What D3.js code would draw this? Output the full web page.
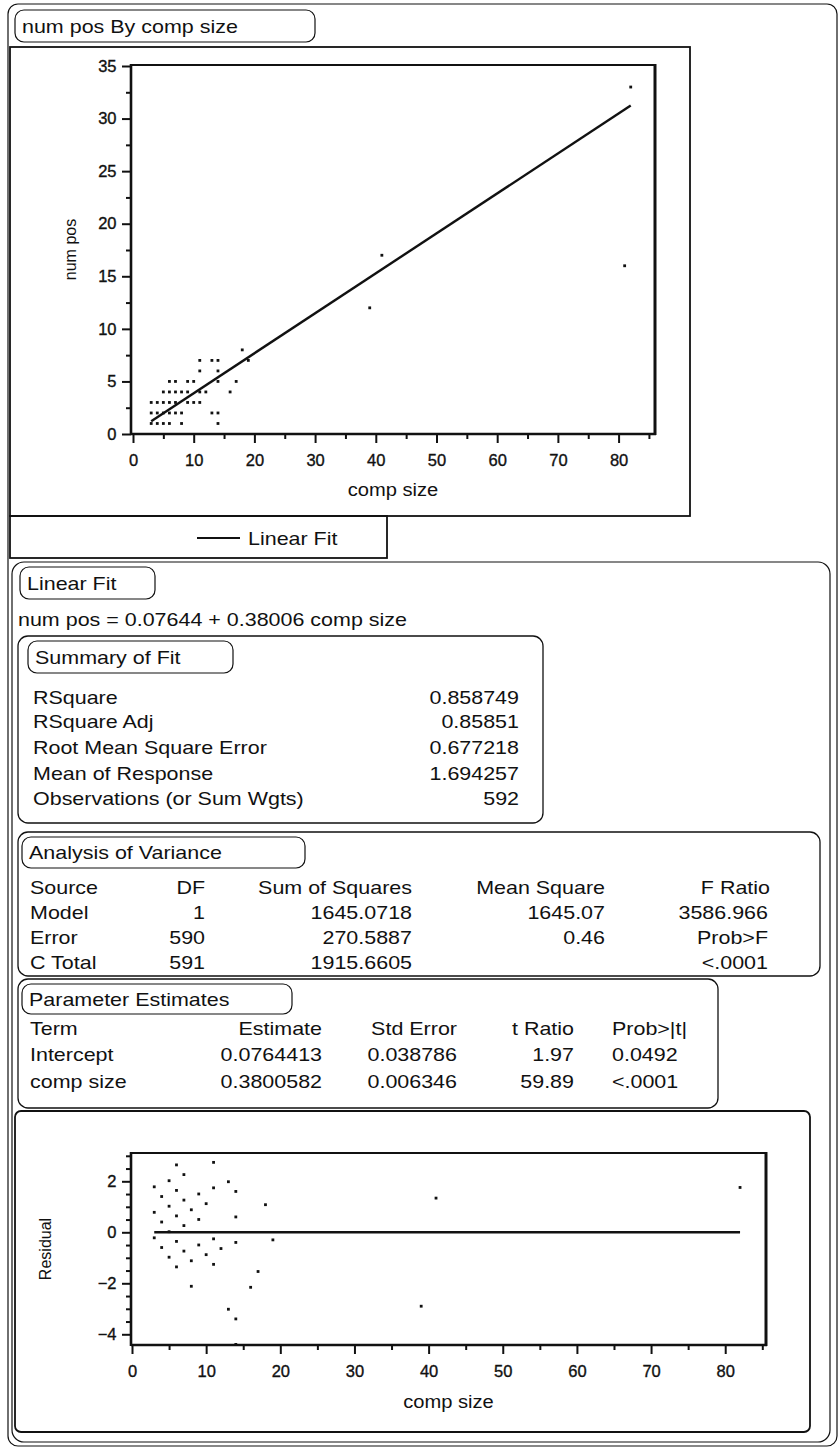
<!DOCTYPE html>
<html><head><meta charset="utf-8">
<script src="https://cdn.jsdelivr.net/npm/d3@7"></script>
<style>
body{margin:0;background:#fff;}
svg text{font-family:"Liberation Sans",Arial,sans-serif;fill:#111;}
</style></head><body>
<svg id="chart" width="840" height="1450"></svg>
<script>
// ---- observations (distinct component size / number of positives pairs) ----
const compSize = [3,4,5,6,8,14, 3,4,5,6,7,8,13,14, 3,4,5,6,7,9,10,11, 5,6,7,8,9,11,12,16, 6,7,9,10,14,17, 11,14, 11,13,14,19, 18, 39, 41, 81, 82];
const numPos   = [1,1,1,1,1,1, 2,2,2,2,2,2,2,2, 3,3,3,3,3,3,3,3, 4,4,4,4,4,4,4,4, 5,5,5,5,5,5, 6,6, 7,7,7,7, 8, 12, 17, 16, 33];

// ---- fitted line ----
const intercept = 0.0764413;
const slope = 0.3800582;
const fitRange = [3, 82];

// ---- axis ticks ----
const scatterXTicks = [0,10,20,30,40,50,60,70,80];
const scatterYTicks = [0,5,10,15,20,25,30,35];
const residXTicks = [0,10,20,30,40,50,60,70,80];
const residYTicks = [-4,-2,0,2];

// ---- report tables ----
const equationText = "num pos = 0.07644 + 0.38006 comp size";
const summaryLabels = ["RSquare","RSquare Adj","Root Mean Square Error","Mean of Response","Observations (or Sum Wgts)"];
const summaryValues = ["0.858749","0.85851","0.677218","1.694257","592"];
const aovHeader = ["Source","DF","Sum of Squares","Mean Square","F Ratio"];
const aovSource = ["Model","Error","C Total"];
const aovDF = ["1","590","591"];
const aovSS = ["1645.0718","270.5887","1915.6605"];
const aovMS = ["1645.07","0.46",""];
const aovF = ["3586.966","Prob>F","<.0001"];
const peHeader = ["Term","Estimate","Std Error","t Ratio","Prob>|t|"];
const peTerm = ["Intercept","comp size"];
const peEstimate = ["0.0764413","0.3800582"];
const peStdErr = ["0.038786","0.006346"];
const peT = ["1.97","59.89"];
const peP = ["0.0492","<.0001"];

const ink = "#111";
const FS = 19, SX = 1.13;   // report text size and horizontal stretch
const svg = d3.select("#chart");

function rbox(x, y, w, h, r, sw) {
  svg.append("rect").attr("x", x).attr("y", y).attr("width", w).attr("height", h)
    .attr("rx", r).attr("fill", "none").attr("stroke", ink).attr("stroke-width", sw);
}
function txt(x, y, s, anchor, size, sx) {
  return svg.append("text")
    .attr("transform", `translate(${x},${y}) scale(${sx || SX},1)`)
    .attr("dy", "0.36em")
    .attr("text-anchor", anchor || "start").attr("font-size", size || FS).text(s);
}
function pill(x, y, w, h, label) {
  rbox(x, y, w, h, 9, 1.2);
  txt(x + 7, y + h / 2, label);
}

// ---- page frames ----
rbox(8, 4, 829, 1442, 10, 1.2);
pill(15, 10, 300, 32, "num pos By comp size");
svg.append("rect").attr("x", 10).attr("y", 47).attr("width", 680).attr("height", 469)
  .attr("fill", "none").attr("stroke", ink).attr("stroke-width", 1.8);
svg.append("rect").attr("x", 10).attr("y", 516).attr("width", 377).attr("height", 42)
  .attr("fill", "none").attr("stroke", ink).attr("stroke-width", 1.8);
svg.append("line").attr("x1", 197).attr("x2", 240).attr("y1", 538).attr("y2", 538)
  .attr("stroke", ink).attr("stroke-width", 1.8);
txt(248, 538, "Linear Fit");

// ---- axes helper ----
function drawAxes(p, xs, ys, xTicks, yTicks, xMinor, yMinor, xTitle, yTitle, xTitleY, yTitleX) {
  const g = svg.append("g");
  g.append("line").attr("x1", p.l).attr("x2", p.r).attr("y1", p.t).attr("y2", p.t).attr("stroke", ink).attr("stroke-width", 2.2);
  g.append("line").attr("x1", p.r).attr("x2", p.r).attr("y1", p.t - 1).attr("y2", p.b + 1).attr("stroke", ink).attr("stroke-width", 3);
  const xa = g.append("g").attr("transform", `translate(0,${p.b})`)
    .call(d3.axisBottom(xs).tickValues(xTicks).tickSize(9).tickFormat(d3.format("d")));
  const xm = g.append("g").attr("transform", `translate(0,${p.b})`)
    .call(d3.axisBottom(xs).tickValues(xMinor).tickSize(5).tickFormat(""));
  const ya = g.append("g").attr("transform", `translate(${p.l},0)`)
    .call(d3.axisLeft(ys).tickValues(yTicks).tickSize(9).tickFormat(d3.format("d")));
  const ym = g.append("g").attr("transform", `translate(${p.l},0)`)
    .call(d3.axisLeft(ys).tickValues(yMinor).tickSize(5).tickFormat(""));
  [xa, xm, ya, ym].forEach(a => {
    a.select(".domain").remove();
    a.selectAll("line").attr("stroke", ink).attr("stroke-width", 2);
    a.selectAll("text").attr("font-size", 16.5).attr("font-family", "Liberation Sans, Arial, sans-serif")
      .attr("fill", ink).attr("stroke", ink).attr("stroke-width", 0.35);
  });
  xa.selectAll("text").attr("dy", "1.2em");
  ya.selectAll("text").attr("dx", "-0.15em");
  g.append("line").attr("x1", p.l).attr("x2", p.r + 1).attr("y1", p.b).attr("y2", p.b).attr("stroke", ink).attr("stroke-width", 2.6);
  g.append("line").attr("x1", p.l).attr("x2", p.l).attr("y1", p.t - 1).attr("y2", p.b + 1).attr("stroke", ink).attr("stroke-width", 2.6);
  txt((p.l + p.r) / 2, xTitleY, xTitle, "middle", 19, 1.06);
  svg.append("text").attr("transform", `translate(${yTitleX},${(p.t + p.b) / 2}) rotate(-90)`)
    .attr("text-anchor", "middle").attr("dy", "0.36em").attr("font-size", 16).text(yTitle);
}

// ---- scatter plot ----
const sp = {l: 131, r: 655, t: 65, b: 434};
const xS = d3.scaleLinear().domain([0, 86]).range([133, 655]);
const yS = d3.scaleLinear().domain([0, 35]).range([434, 66]);
drawAxes(sp, xS, yS, scatterXTicks, scatterYTicks, d3.range(5, 86, 10), d3.range(2.5, 35, 5),
  "comp size", "num pos", 489, 70);

const pts = compSize.map((c, i) => ({c, n: numPos[i]}));
svg.append("g").selectAll("rect").data(pts).join("rect")
  .attr("x", d => xS(d.c) - 1.4).attr("y", d => yS(d.n) - 1.4)
  .attr("width", 2.8).attr("height", 2.8).attr("fill", ink);

svg.append("line")
  .attr("x1", xS(fitRange[0])).attr("y1", yS(intercept + slope * fitRange[0]))
  .attr("x2", xS(fitRange[1])).attr("y2", yS(intercept + slope * fitRange[1]))
  .attr("stroke", ink).attr("stroke-width", 2.4);

// ---- Linear Fit report ----
rbox(12, 562, 818, 880, 12, 1.2);
pill(20, 567, 135, 32, "Linear Fit");
txt(18, 619, equationText);

// Summary of Fit
rbox(18, 636, 525, 187, 10, 1.3);
pill(28, 641, 205, 32, "Summary of Fit");
const sumY = [697, 721, 747, 773, 798];
summaryLabels.forEach((s, i) => {
  txt(33, sumY[i], s);
  txt(519, sumY[i], summaryValues[i], "end");
});

// Analysis of Variance
rbox(18, 832, 802, 144, 10, 1.3);
pill(22, 837, 283, 31, "Analysis of Variance");
const aovY = [887, 912, 937, 962];
txt(30, aovY[0], aovHeader[0]);
txt(205, aovY[0], aovHeader[1], "end");
txt(412, aovY[0], aovHeader[2], "end");
txt(605, aovY[0], aovHeader[3], "end");
txt(770, aovY[0], aovHeader[4], "end");
aovSource.forEach((s, i) => {
  const y = aovY[i + 1];
  txt(30, y, s);
  txt(205, y, aovDF[i], "end");
  txt(412, y, aovSS[i], "end");
  txt(605, y, aovMS[i], "end");
  txt(768, y, aovF[i], "end");
});

// Parameter Estimates
rbox(18, 979, 700, 129, 10, 1.3);
pill(22, 984, 270, 30, "Parameter Estimates");
const peY = [1028, 1054, 1081];
txt(30, peY[0], peHeader[0]);
txt(322, peY[0], peHeader[1], "end");
txt(457, peY[0], peHeader[2], "end");
txt(574, peY[0], peHeader[3], "end");
txt(612, peY[0], peHeader[4]);
peTerm.forEach((s, i) => {
  const y = peY[i + 1];
  txt(30, y, s);
  txt(322, y, peEstimate[i], "end");
  txt(457, y, peStdErr[i], "end");
  txt(574, y, peT[i], "end");
  txt(612, y, peP[i]);
});

// ---- residual plot ----
rbox(15, 1111, 795, 321, 6, 1.8);
const rp = {l: 131, r: 766, t: 1153, b: 1345};
const xR = d3.scaleLinear().domain([0, 85.5]).range([132, 766]);
const yR = d3.scaleLinear().domain([-4.42, 3.11]).range([1345, 1153]);
drawAxes(rp, xR, yR, residXTicks, residYTicks, d3.range(5, 86, 10),
  d3.range(-4, 3.01, 0.5).filter(v => v % 2 !== 0), "comp size", "Residual", 1401, 45);

svg.append("clipPath").attr("id", "rclip").append("rect")
  .attr("x", rp.l).attr("y", rp.t).attr("width", rp.r - rp.l).attr("height", rp.b - rp.t);
const resid = pts.map(d => ({c: d.c, r: d.n - (intercept + slope * d.c)}));
svg.append("g").attr("clip-path", "url(#rclip)").selectAll("rect").data(resid).join("rect")
  .attr("x", d => xR(d.c) - 1.4).attr("y", d => yR(d.r) - 1.4)
  .attr("width", 2.8).attr("height", 2.8).attr("fill", ink);
svg.append("line").attr("x1", xR(fitRange[0])).attr("x2", xR(fitRange[1]))
  .attr("y1", yR(0)).attr("y2", yR(0)).attr("stroke", ink).attr("stroke-width", 2.4);
</script></body></html>
